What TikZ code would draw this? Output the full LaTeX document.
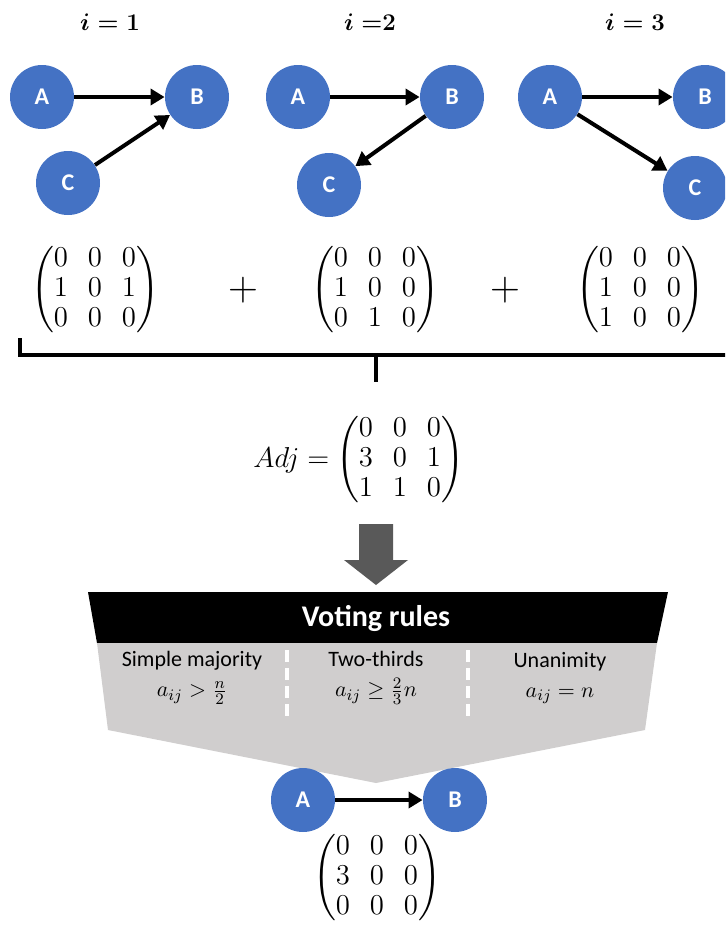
\documentclass[tikz,border=0pt]{standalone}
\usepackage{fontspec}
\usepackage{amsmath}
\setsansfont{Carlito}
\usetikzlibrary{shapes,arrows.meta,positioning,calc}
\definecolor{nodeblue}{HTML}{4472C4}
\definecolor{arrowgrey}{HTML}{595959}
\definecolor{funnelgrey}{HTML}{D0CECE}

\begin{document}
\begin{tikzpicture}[
    x=0.5pt, y=-0.5pt,
    vertex/.style={circle, fill=nodeblue, minimum size=32pt, inner sep=0pt, text=white, font=\sffamily\bfseries\fontsize{12}{14}\selectfont},
    arrow/.style={line width=2pt, -{Triangle[length=7pt, width=8pt]}},
    bracket/.style={line width=2pt},
    title/.style={font=\boldmath\fontsize{13}{15}\selectfont},
    mat/.style={font=\fontsize{14.5}{15}\selectfont, inner sep=0pt},
    plus/.style={font=\fontsize{22}{22}\selectfont, inner sep=0pt},
    rulename/.style={font=\sffamily\fontsize{11}{14}\selectfont, align=center, inner sep=0pt}
]
\useasboundingbox (0,0) rectangle (725,934);
\clip (0,0) rectangle (725,934);

% voter titles
\node[title] (t1) at (110,22) {$i = 1$};
\node[title] (t2) at (370,22) {$i\;{=}2$};
\node[title] (t3) at (635,22) {$i = 3$};

% voter graphs
\node[vertex] (a1) at (42,97) {A};
\node[vertex] (b1) at (197,97) {B};
\node[vertex] (c1) at (68,183) {C};
\node[vertex] (a2) at (298,97) {A};
\node[vertex] (b2) at (452,97) {B};
\node[vertex] (c2) at (329,185) {C};
\node[vertex] (a3) at (550,97) {A};
\node[vertex] (b3) at (705,97) {B};
\node[vertex] (c3) at (695,188) {C};

\draw[arrow] (a1) -- (b1);
\draw[arrow] (c1) -- (b1);
\draw[arrow] (a2) -- (b2);
\draw[arrow] (b2) -- (c2);
\draw[arrow] (a3) -- (b3);
\draw[arrow] (a3) -- (c3);

% adjacency matrices
\node[mat] (m1) at (95,290) {$\begin{pmatrix}0&0&0\\1&0&1\\0&0&0\end{pmatrix}$};
\node[plus] (p1) at (243,290) {$+$};
\node[mat] (m2) at (375,290) {$\begin{pmatrix}0&0&0\\1&0&0\\0&1&0\end{pmatrix}$};
\node[plus] (p2) at (505,290) {$+$};
\node[mat] (m3) at (640,290) {$\begin{pmatrix}0&0&0\\1&0&0\\1&0&0\end{pmatrix}$};

% sum bracket
\coordinate (brl) at (20,338);
\coordinate (brr) at (730,355);
\coordinate (brm) at (376,355);
\coordinate (brt) at (376,382);
\draw[bracket] (brl) |- (brr);
\draw[bracket] (brm) -- (brt);

\node[mat] (adj) at (400,460) {$\begin{pmatrix}0&0&0\\3&0&1\\1&1&0\end{pmatrix}$};
\node[mat, left=3pt of adj] (adjname) {$Adj =$};

% block arrow
\fill[arrowgrey] (359,524) -- (393,524) -- (393,560) -- (408,560) -- (376,585)
    -- (344,560) -- (359,560) -- cycle;

% voting rules funnel
\fill[black] (88,592) -- (668,592) -- (657,643) -- (97,643) -- cycle;
\fill[funnelgrey] (97,643) -- (657,643) -- (645,730) -- (376,783) -- (108,730) -- cycle;
\node[font=\sffamily\bfseries\fontsize{15}{17}\selectfont, text=white] (vr) at (376,618) {Voting rules};
\draw[white, line width=2pt, dash pattern=on 6pt off 3pt] (287,650) -- (287,722);
\draw[white, line width=2pt, dash pattern=on 6pt off 3pt] (468,650) -- (468,722);

\node[rulename] (simple) at (192,678) {Simple majority\\[1pt]$a_{ij} > \frac{n}{2}$};
\node[rulename] (twothirds) at (376,678) {Two-thirds\\[1pt]$a_{ij} \geq \frac{2}{3}n$};
\node[rulename] (unanim) at (560,678) {Unanimity\\[1pt]$a_{ij} = n$};

% consensus graph
\node[vertex] (af) at (303,800) {A};
\node[vertex] (bf) at (455,800) {B};
\draw[arrow] (af) -- (bf);
\node[mat] (mf) at (377,878) {$\begin{pmatrix}0&0&0\\3&0&0\\0&0&0\end{pmatrix}$};

\end{tikzpicture}
\end{document}
